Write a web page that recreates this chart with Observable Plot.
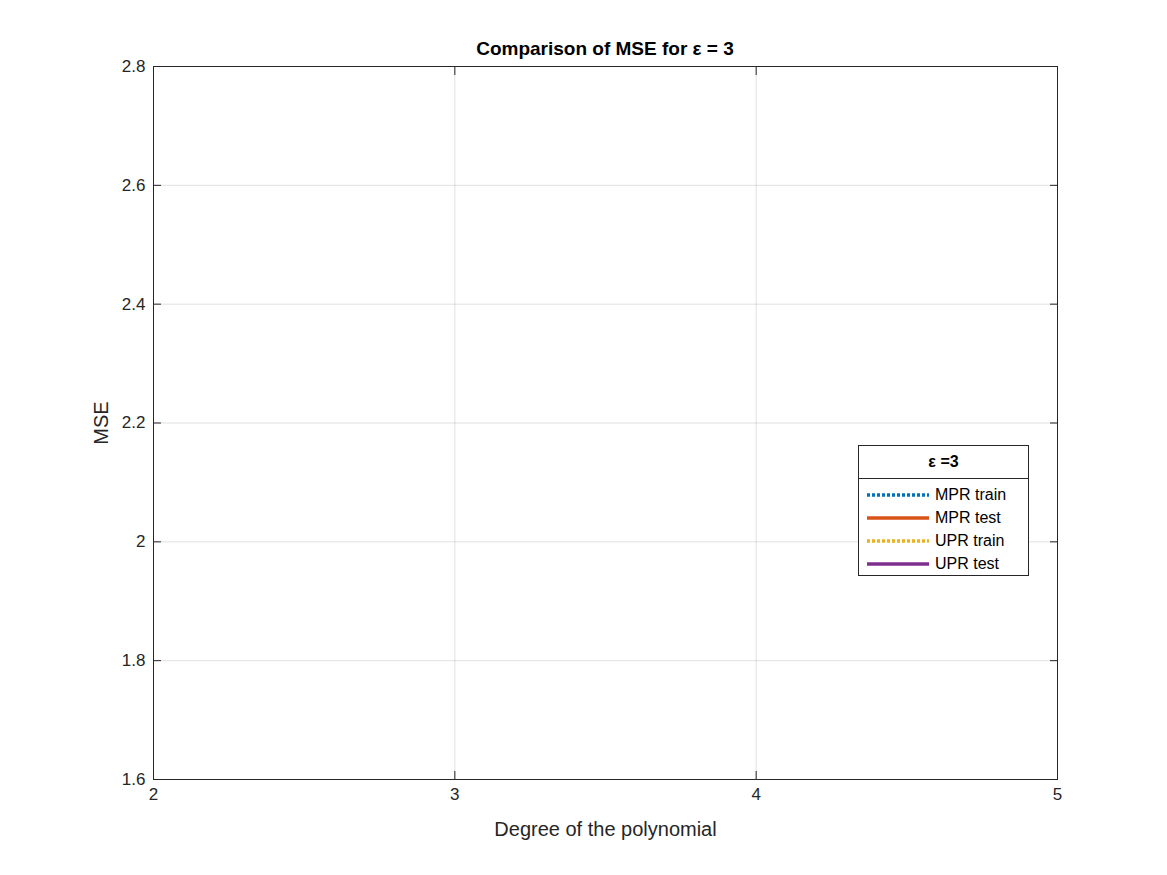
<!DOCTYPE html>
<html><head><meta charset="utf-8">
<script src="https://cdn.jsdelivr.net/npm/d3@7"></script>
<script src="https://cdn.jsdelivr.net/npm/@observablehq/plot@0.6"></script>
<style>
body{margin:0;background:#fff;font-family:"Liberation Sans",Arial,sans-serif;}
#wrap{position:relative;width:1167px;height:875px;}
#title{position:absolute;top:38px;left:153px;width:904px;text-align:center;font-weight:bold;font-size:19px;color:#000;}
#legend{position:absolute;left:858px;top:445px;width:169px;height:129px;border:1px solid #262626;background:#fff;font-size:16px;color:#000;}
#legend .hd{height:32px;line-height:32px;text-align:center;font-weight:bold;border-bottom:1px solid #262626;}
#legend .row{display:flex;align-items:center;height:23px;}
#legend svg{margin-left:8px;margin-right:6px;}
</style></head><body>
<div id="wrap"><div id="title">Comparison of MSE for ε = 3</div><div id="chart"></div>
<div id="legend"></div></div>
<script>
const degrees=[2,3,4,5];
const mprTrain=[1.933,1.891,1.854,1.785];
const mprTest=[2.452,2.512,2.489,2.502];
const uprTrain=[1.933,1.878,1.800,1.681];
const uprTest=[2.452,2.593,2.623,2.729];
const series=[
 {name:"MPR train",values:mprTrain,color:"#0072BD",dash:"3 2"},
 {name:"MPR test",values:mprTest,color:"#D95319",dash:null},
 {name:"UPR train",values:uprTrain,color:"#EDB120",dash:"3 2"},
 {name:"UPR test",values:uprTest,color:"#7E2F8E",dash:null}
];
const yTicks=[1.6,1.8,2,2.2,2.4,2.6,2.8];
const lines=series.map((s,k)=>Plot.line(degrees.map((d,i)=>({x:d,y:s.values[i]})),{x:"x",y:"y",stroke:s.color,strokeWidth:3.5,ariaLabel:"series-"+k}));
const plot=Plot.plot({
 width:1167,height:875,marginLeft:153,marginRight:110,marginTop:66,marginBottom:96,
 style:{fontFamily:"Liberation Sans, Arial, sans-serif",fontSize:"17px",color:"#262626"},
 x:{domain:[2,5]},y:{domain:[1.6,2.8]},
 marks:[
  Plot.gridX(degrees,{stroke:"#000",strokeOpacity:0.12}),
  Plot.gridY(yTicks,{stroke:"#000",strokeOpacity:0.12}),
  ...lines,
  Plot.frame({stroke:"#262626"}),
  Plot.axisX(degrees,{tickSize:-8,tickPadding:16,tickFormat:d=>d,label:"Degree of the polynomial",labelAnchor:"center",labelArrow:"none",labelOffset:56}),
  Plot.axisX(degrees,{anchor:"top",tickSize:-8,tickFormat:()=>"",label:null}),
  Plot.axisY(yTicks,{tickSize:-8,tickPadding:16,tickFormat:d=>String(d),label:"MSE",labelAnchor:"center",labelArrow:"none",labelOffset:60}),
  Plot.axisY(yTicks,{anchor:"right",tickSize:-8,tickFormat:()=>"",label:null})
 ]
});
plot.querySelectorAll('[aria-label="x-axis tick label"], [aria-label="y-axis tick label"]').forEach(g=>g.setAttribute("font-size","17"));
plot.querySelectorAll('[aria-label="x-axis tick label"] text, [aria-label="y-axis tick label"] text').forEach(t=>t.style.fontSize="17px");
plot.querySelectorAll('[aria-label="x-axis label"] text, [aria-label="y-axis label"] text').forEach(t=>t.style.fontSize="20px");
series.forEach((s,k)=>{ if(s.dash) plot.querySelectorAll(`[aria-label="series-${k}"] path`).forEach(p=>p.setAttribute("stroke-dasharray",s.dash)); });
document.getElementById("chart").appendChild(plot);
const lg=document.getElementById("legend");
lg.innerHTML='<div class="hd">ε =3</div>'+series.map(s=>`<div class="row"><svg width="62" height="6"><line x1="0" y1="3" x2="62" y2="3" stroke="${s.color}" stroke-width="3.5" ${s.dash?`stroke-dasharray="${s.dash}"`:""}/></svg>${s.name}</div>`).join("");
lg.firstChild.style.marginBottom="4px";
</script></body></html>
